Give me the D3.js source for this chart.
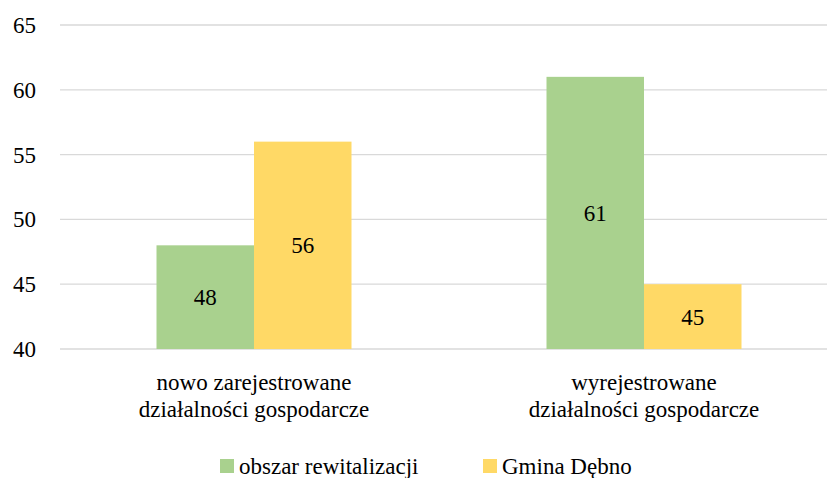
<!DOCTYPE html>
<html><head><meta charset="utf-8"><script src="https://cdn.jsdelivr.net/npm/d3@7"></script></head>
<body style="margin:0">
<svg id="s" width="827" height="478" style="font: 23px 'Liberation Serif', 'Times New Roman', serif"></svg>
<script>
// Data
const categories = [
  ['nowo zarejestrowane', 'działalności gospodarcze'],
  ['wyrejestrowane', 'działalności gospodarcze']
];
const seriesNames = ['obszar rewitalizacji', 'Gmina Dębno'];
const seriesColors = ['#a9d18e', '#ffd966'];
const obszarValues = [48, 61];
const gminaValues = [56, 45];
const yTicks = [40, 45, 50, 55, 60, 65];

const W = 827, H = 478;
const FONT_CSS = "23px 'Liberation Serif', 'Times New Roman', serif";
const svg = d3.select('#s');

const catKeys = categories.map(c => c.join(' '));
const x = d3.scaleBand().domain(catKeys).range([59, 839]).paddingInner(0.5).paddingOuter(0.25);
const xs = d3.scaleBand().domain(seriesNames).range([0, x.bandwidth()]);
const y = d3.scaleLinear().domain([40, 65]).range([349, 25]);

// gridlines
svg.selectAll('line.grid').data(yTicks).join('line')
  .attr('class', 'grid')
  .attr('x1', 60).attr('x2', W)
  .attr('y1', d => y(d)).attr('y2', d => y(d))
  .attr('stroke', '#d9d9d9').attr('stroke-width', 1.3);

// bars
const rows = [];
catKeys.forEach((k, i) => {
  rows.push({ cat: k, s: seriesNames[0], v: obszarValues[i], c: seriesColors[0] });
  rows.push({ cat: k, s: seriesNames[1], v: gminaValues[i], c: seriesColors[1] });
});
svg.selectAll('rect.bar').data(rows).join('rect')
  .attr('class', 'bar')
  .attr('x', d => x(d.cat) + xs(d.s))
  .attr('width', xs.bandwidth())
  .attr('y', d => y(d.v))
  .attr('height', d => y(40) - y(d.v))
  .attr('fill', d => d.c);

// y tick labels
yTicks.forEach(t => {
  svg.append('text').attr('x', 36).attr('y', y(t) + 8)
    .attr('text-anchor', 'end')
    .style('font', FONT_CSS).text(t);
});

// value labels, centred in bar
rows.forEach(d => {
  svg.append('text')
    .attr('x', x(d.cat) + xs(d.s) + xs.bandwidth() / 2)
    .attr('y', (y(d.v) + y(40)) / 2 + 8)
    .attr('text-anchor', 'middle')
    .style('font', FONT_CSS).text(d.v);
});

// category labels, two lines each
categories.forEach((lines, i) => {
  const cx = x(catKeys[i]) + x.bandwidth() / 2;
  lines.forEach((ln, j) => {
    svg.append('text').attr('x', cx).attr('y', 390 + j * 27)
      .attr('text-anchor', 'middle')
      .style('font', FONT_CSS).text(ln);
  });
});

// legend
const legendX = [220, 483];
seriesNames.forEach((name, i) => {
  svg.append('rect').attr('x', legendX[i]).attr('y', 459)
    .attr('width', 14).attr('height', 14).attr('fill', seriesColors[i]);
  svg.append('text').attr('x', legendX[i] + 19).attr('y', 474)
    .style('font', FONT_CSS).text(name);
});
</script></body></html>
